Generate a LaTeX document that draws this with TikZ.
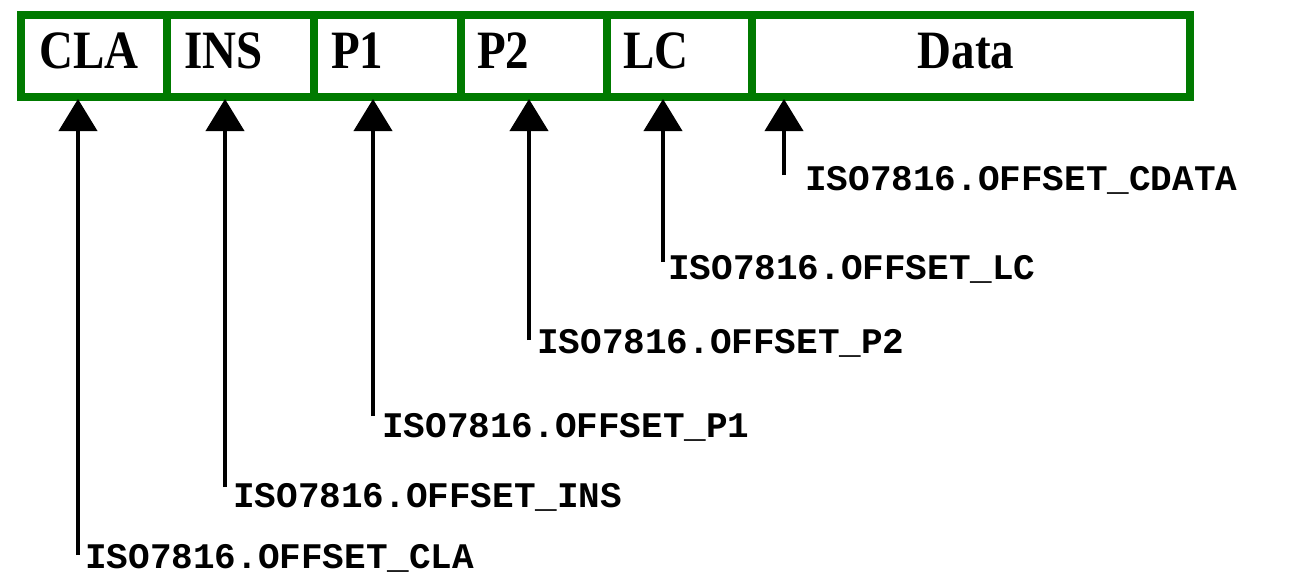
\documentclass[tikz,border=0pt]{standalone}
\usepackage{fontspec}
\usetikzlibrary{arrows.meta}
\newfontfamily\cellfont[FakeStretch=0.87]{Liberation Serif}
\newfontfamily\labfont{Liberation Mono}
\definecolor{boxgreen}{RGB}{0,122,0}
\begin{document}
\begin{tikzpicture}[x=1pt,y=-1pt,
  cell/.style={draw=boxgreen,line width=8pt,rectangle,minimum height=82pt,inner sep=0pt,anchor=north west},
  celltext/.style={inner sep=0pt,font=\cellfont\bfseries\fontsize{54}{60}\selectfont},
  offlabel/.style={inner sep=0pt,anchor=base west,font=\labfont\bfseries\fontsize{36}{40}\selectfont},
  arr/.style={line width=4pt,-{Triangle[width=38pt,length=32pt]},shorten >=-2pt}]
\useasboundingbox[fill=white] (0,0) rectangle (1292,581);
% cells
\node[cell,minimum width=146pt] (cla) at (17,11) {};
\node[cell,minimum width=147pt] (ins) at (163,11) {};
\node[cell,minimum width=147pt] (p1) at (310,11) {};
\node[cell,minimum width=146pt] (p2) at (457,11) {};
\node[cell,minimum width=145pt] (lc) at (603,11) {};
\node[cell,minimum width=438pt] (data) at (748,11) {};
% cell texts
\node[celltext,anchor=base west] (tcla) at (39,68) {CLA};
\node[celltext,anchor=base west] (tins) at (184,68) {INS};
\node[celltext,anchor=base west] (tp1) at (331,68) {P1};
\node[celltext,anchor=base west] (tp2) at (477,68) {P2};
\node[celltext,anchor=base west] (tlc) at (623,68) {LC};
\node[celltext,anchor=base] (tdata) at (966,68) {Data};
% offset labels
\node[offlabel] (lcla) at (85,568) {ISO7816.OFFSET\_CLA};
\node[offlabel] (lins) at (233,507) {ISO7816.OFFSET\_INS};
\node[offlabel] (lp1) at (382,437) {ISO7816.OFFSET\_P1};
\node[offlabel] (lp2) at (537,353) {ISO7816.OFFSET\_P2};
\node[offlabel] (llc) at (668,279) {ISO7816.OFFSET\_LC};
\node[offlabel] (lcdata) at (805,190) {ISO7816.OFFSET\_CDATA};
% line ends
\coordinate (ecla) at (78,555);
\coordinate (eins) at (225,487);
\coordinate (ep1) at (373,416);
\coordinate (ep2) at (529,340);
\coordinate (elc) at (663,262);
\coordinate (ecdata) at (784,175);
% arrows
\draw[arr] (ecla) -- (ecla |- cla.south);
\draw[arr] (eins) -- (eins |- ins.south);
\draw[arr] (ep1) -- (ep1 |- p1.south);
\draw[arr] (ep2) -- (ep2 |- p2.south);
\draw[arr] (elc) -- (elc |- lc.south);
\draw[arr] (ecdata) -- (ecdata |- data.south);
\end{tikzpicture}
\end{document}
